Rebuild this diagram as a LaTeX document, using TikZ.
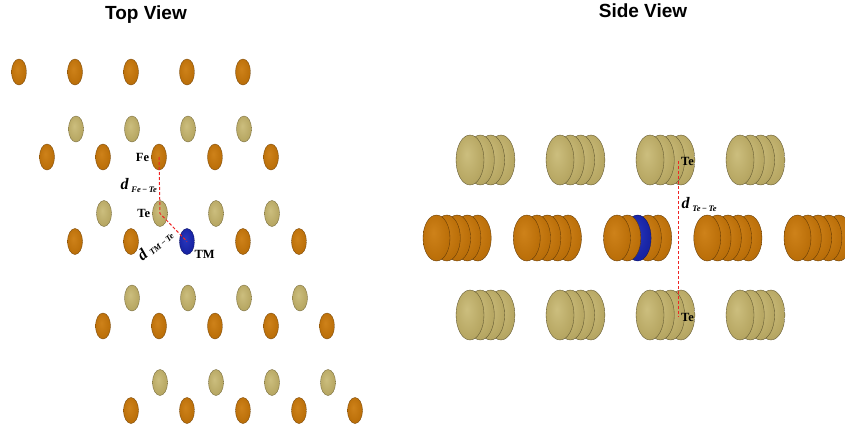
\documentclass[tikz,border=0pt]{standalone}
\usepackage{fontspec}
\setmainfont{Liberation Serif}
\newfontfamily\headfont{Liberation Sans}
\usepackage{tikz}
\usetikzlibrary{shapes.geometric,positioning}

\definecolor{fe-light}{RGB}{206,130,26}
\definecolor{fe-color}{RGB}{188,112,10}
\definecolor{fe-dark}{RGB}{120,70,6}
\definecolor{te-light}{RGB}{204,190,126}
\definecolor{te-color}{RGB}{184,168,100}
\definecolor{te-dark}{RGB}{116,104,56}
\definecolor{tm-light}{RGB}{40,56,190}
\definecolor{tm-color}{RGB}{24,36,164}
\definecolor{tm-dark}{RGB}{12,18,100}
\definecolor{bond-red}{RGB}{238,36,36}

% soft balls, darker only close to the rim
\pgfdeclareradialshading{fe-ball}{\pgfpoint{-6bp}{6bp}}{color(0bp)=(fe-light); color(24bp)=(fe-color); color(42bp)=(fe-color!88!black); color(50bp)=(fe-dark)}
\pgfdeclareradialshading{te-ball}{\pgfpoint{-6bp}{6bp}}{color(0bp)=(te-light); color(24bp)=(te-color); color(42bp)=(te-color!88!black); color(50bp)=(te-dark)}
\pgfdeclareradialshading{tm-ball}{\pgfpoint{-6bp}{6bp}}{color(0bp)=(tm-light); color(24bp)=(tm-color); color(42bp)=(tm-color!88!black); color(50bp)=(tm-dark)}

\tikzset{
    atom/.style = {ellipse, inner sep=0pt, line width=0.35pt},
    fe-atom/.style = {atom, minimum width=15pt, minimum height=26pt, shading=fe-ball, draw=fe-dark},
    te-atom/.style = {atom, minimum width=15pt, minimum height=26pt, shading=te-ball, draw=te-dark},
    tm-atom/.style = {atom, minimum width=15pt, minimum height=26pt, shading=tm-ball, draw=tm-dark},
    fe-disc/.style = {atom, minimum width=27pt, minimum height=46pt, shading=fe-ball, draw=fe-dark!80!black},
    te-disc/.style = {atom, minimum width=28pt, minimum height=50pt, shading=te-ball, draw=te-dark!80!black},
    tm-disc/.style = {atom, minimum width=27pt, minimum height=46pt, shading=tm-ball, draw=tm-dark},
    view-title/.style = {font=\headfont\bfseries\fontsize{19}{19}\selectfont, inner sep=0pt},
    atom-label/.style = {font=\bfseries\fontsize{12.5}{13}\selectfont, inner sep=1pt},
    dist-label/.style = {font=\fontsize{16}{17}\selectfont, inner sep=1pt},
    bond/.style = {draw=bond-red, line width=1pt, dash pattern=on 3pt off 2pt},
}

\newcommand{\distlabel}[1]{\textbf{\textit{d}}\,\raisebox{-2.5pt}{\fontsize{8.5}{9}\selectfont\bfseries\itshape #1}}

\begin{document}
\begin{tikzpicture}[x=1pt, y=-1pt]
\useasboundingbox (0,0) rectangle (845,432);

% titles
\node[view-title, anchor=base] (top-title) at (146,19) {Top View};
\node[view-title, anchor=base] (side-title) at (643,17.5) {Side View};

% top view: first Fe row, then Te/Fe row pairs
\foreach \k in {0,...,4}
    \node[fe-atom] (fe-top-\k) at ({19+56*\k},72) {};
\foreach \i in {0,...,3} {
    \foreach \k in {0,...,3}
        \node[te-atom] (te-\i-\k) at ({76+28*\i+56*\k},{129+84.5*\i}) {};
    \foreach \k in {0,...,4} {
        \ifnum\i\k=12\relax
            \node[tm-atom] (tm) at ({47+28*\i+56*\k},{157+84.5*\i}) {};
        \else
            \node[fe-atom] (fe-\i-\k) at ({47+28*\i+56*\k},{157+84.5*\i}) {};
        \fi
    }
}

\draw[bond] (fe-0-2.center) -- (te-1-1.center)
    node[midway, left=1pt, dist-label] (d-fe) {\distlabel{Fe\,−\,Te}}
    -- (tm.center);
\node[atom-label, left=1pt of fe-0-2] (lbl-fe) {Fe};
\node[atom-label, left=1pt of te-1-1] (lbl-te) {Te};
\node[atom-label, anchor=west] (lbl-tm) at ([shift={(1,4)}]tm.south east) {TM};
\node[dist-label, rotate=40] (d-tm) at (155,245) {\distlabel{TM\,−\,Te}};

% side view: stacked discs, back ones first
\foreach \k in {0,...,3}
    \foreach \j in {3,2,1,0} {
        \node[te-disc] (ste-a-\k-\j) at ({470+90*\k+10.3*\j},160) {};
        \node[te-disc] (ste-b-\k-\j) at ({470+90*\k+10.3*\j},315) {};
    }
\foreach \k in {0,...,4}
    \foreach \j in {4,3,2,1,0} {
        \ifnum\k\j=22\relax
            \node[tm-disc] (stm) at ({436.5+90.25*\k+10.3*\j},238) {};
        \else
            \node[fe-disc] (sfe-\k-\j) at ({436.5+90.25*\k+10.3*\j},238) {};
        \fi
    }

\coordinate (te-up) at (678,161);
\coordinate (te-down) at (678,317);
\draw[bond] (te-up) -- (te-down)
    node[pos=0.28, right=2pt, dist-label] (d-te) {\distlabel{Te\,−\,Te}};
\node[atom-label, right=2pt of te-up] (lbl-te-up) {Te};
\node[atom-label, right=2pt of te-down] (lbl-te-down) {Te};
\end{tikzpicture}
\end{document}
